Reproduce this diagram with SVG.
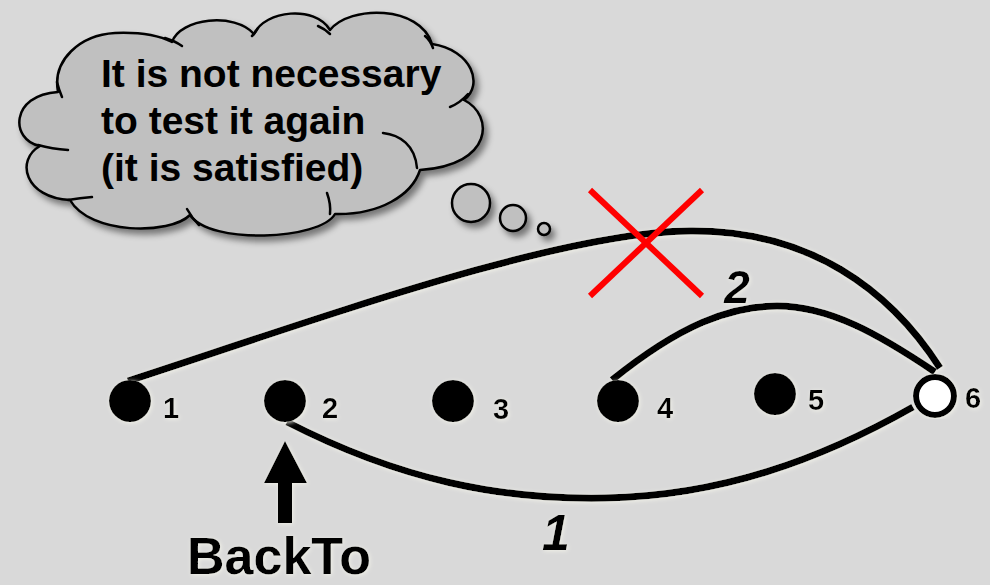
<svg xmlns="http://www.w3.org/2000/svg" width="990" height="585" viewBox="0 0 990 585">
  <defs>
    <filter id="shadow" x="-10%" y="-10%" width="130%" height="140%">
      <feDropShadow dx="4" dy="5" stdDeviation="3" flood-color="#000" flood-opacity="0.45"/>
    </filter>
    <filter id="halo" x="-10%" y="-10%" width="120%" height="120%">
      <feDropShadow dx="1" dy="1" stdDeviation="2" flood-color="#f4f4ea" flood-opacity="0.9"/>
    </filter>
  </defs>
  <style>
    .bg { fill: #d9d9d9; }
    .cloud { fill: #c0c0c0; stroke: #000; stroke-width: 2.5; stroke-linejoin: round; }
    .tail { fill: none; stroke: #000; stroke-width: 2.5; stroke-linecap: round; }
    .ctext { font-family: "Liberation Sans", Arial, sans-serif; font-weight: bold; font-size: 39px; fill: #000; }
    .node { fill: #000; }
    .open { fill: #fff; stroke: #000; stroke-width: 6; }
    .lbl { font-family: "Liberation Sans", Arial, sans-serif; font-weight: bold; font-size: 29px; fill: #000; }
    .edge { fill: none; stroke: #000; stroke-width: 7; stroke-linecap: butt; }
    .elbl { font-family: "Liberation Sans", Arial, sans-serif; font-weight: bold; font-style: italic; fill: #000; }
    .cross { stroke: #ff0000; stroke-width: 6; }
    .big { font-family: "Liberation Sans", Arial, sans-serif; font-weight: bold; font-size: 52px; fill: #000; }
  </style>
  <rect class="bg" x="0" y="0" width="990" height="585"/>

  <g id="thought" filter="url(#shadow)">
    <path class="cloud" d="M58,92 C52,60 80,35 115,33 C140,32 160,36 172,42 C180,18 235,12 254,34 C265,10 315,5 330,30 C350,5 420,5 432,44 C472,50 484,85 464,100 C494,115 494,165 420,170 C412,195 380,215 335,214 C320,240 210,245 190,215 C170,235 90,235 70,200 C25,198 15,160 40,146 C10,140 10,95 58,92 Z"/>
    <circle class="cloud" cx="471" cy="203" r="19"/>
    <circle class="cloud" cx="513" cy="218" r="13"/>
    <circle class="cloud" cx="544" cy="229" r="6"/>
  </g>
  <g id="thought-detail">
    <path class="tail" d="M57,82 Q59,90 62,97"/>
    <path class="tail" d="M165,38 Q175,41 182,46"/>
    <path class="tail" d="M252,36 Q256,32 258,28"/>
    <path class="tail" d="M318,26 Q325,29 330,34"/>
    <path class="tail" d="M425,36 Q430,40 433,48"/>
    <path class="tail" d="M468,94 Q460,103 450,107"/>
    <path class="tail" d="M383,133 C400,135 415,145 417,168"/>
    <path class="tail" d="M327,193 Q331,204 330,214"/>
    <path class="tail" d="M187,209 Q192,218 199,225"/>
    <path class="tail" d="M92,197 Q80,198 68,200"/>
    <path class="tail" d="M68,150 Q52,149 38,145"/>
    <text class="ctext" x="101" y="87">It is not necessary</text>
    <text class="ctext" x="101" y="134">to test it again</text>
    <text class="ctext" x="101" y="181">(it is satisfied)</text>
  </g>

  <g id="connectors" filter="url(#halo)">
    <path class="edge" d="M128,381 C330,315 560,232 690,231 C810,230 890,290 940,368"/>
    <path class="edge" d="M612,380 C680,325 730,306 777,306 C830,306 880,335 935,372"/>
    <path class="edge" d="M287,422 C400,480 500,500 605,498 C720,496 820,460 913,407"/>
    <text class="elbl" x="737" y="303" font-size="46" text-anchor="middle">2</text>
    <text class="elbl" x="556" y="550" font-size="50" text-anchor="middle">1</text>
  </g>

  <g id="n1" filter="url(#halo)">
    <circle class="node" cx="130" cy="401" r="21"/>
    <text class="lbl" x="163" y="418">1</text>
  </g>
  <g id="n2" filter="url(#halo)">
    <circle class="node" cx="285" cy="401" r="21"/>
    <text class="lbl" x="322" y="418">2</text>
  </g>
  <g id="n3" filter="url(#halo)">
    <circle class="node" cx="453" cy="401" r="21"/>
    <text class="lbl" x="493" y="419">3</text>
  </g>
  <g id="n4" filter="url(#halo)">
    <circle class="node" cx="618" cy="401" r="21"/>
    <text class="lbl" x="657" y="418">4</text>
  </g>
  <g id="n5" filter="url(#halo)">
    <circle class="node" cx="775" cy="394" r="21"/>
    <text class="lbl" x="808" y="410">5</text>
  </g>
  <g id="n6" filter="url(#halo)">
    <circle class="open" cx="935" cy="396" r="19"/>
    <text class="lbl" x="965" y="408">6</text>
  </g>

  <g id="cross">
    <line class="cross" x1="590" y1="190" x2="702" y2="296"/>
    <line class="cross" x1="702" y1="190" x2="590" y2="296"/>
  </g>

  <g id="backto" filter="url(#halo)">
    <polygon points="285,441 307,483 292,483 292,523 278,523 278,483 264,483" fill="#000"/>
    <text class="big" x="187" y="574">BackTo</text>
  </g>
</svg>
